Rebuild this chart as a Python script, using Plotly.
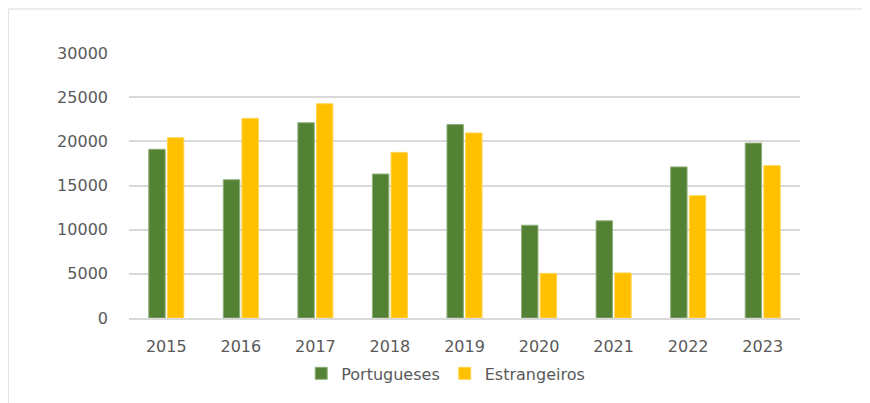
import plotly.graph_objects as go

years = ["2015", "2016", "2017", "2018", "2019", "2020", "2021", "2022", "2023"]
portugueses = [19100, 15650, 22100, 16300, 21900, 10500, 11000, 17100, 19800]
estrangeiros = [20400, 22600, 24250, 18750, 20950, 5050, 5100, 13850, 17250]
y_ticks = [0, 5000, 10000, 15000, 20000, 25000, 30000]
y_ticktext = ["0", "5000", "10000", "15000", "20000", "25000", "30000"]

GREEN = "#548235"
YELLOW = "#FFC000"
TEXT = "#595959"
GRID = "#D9D9D9"

fig = go.Figure()
fig.add_trace(go.Bar(x=years, y=portugueses, name="Portugueses",
                     marker=dict(color=GREEN, line=dict(color="#8FAE7A", width=1))))
fig.add_trace(go.Bar(x=years, y=estrangeiros, name="Estrangeiros",
                     marker=dict(color=YELLOW, line=dict(color="#FFD54F", width=1))))

fig.update_layout(
    width=862, height=395,
    margin=dict(l=121, r=70, t=45, b=85),
    paper_bgcolor="white", plot_bgcolor="white",
    barmode="group", bargap=0.5, bargroupgap=0.12,
    font=dict(family="DejaVu Sans", size=16, color=TEXT),
    showlegend=True,
    legend=dict(orientation="h", x=0.472, xanchor="center", y=-0.145, yanchor="top",
                font=dict(size=16, color=TEXT), itemwidth=30, traceorder="normal"),
    xaxis=dict(showgrid=False, showline=True, linecolor=GRID, linewidth=1.5,
               ticks="", tickfont=dict(size=16, color=TEXT), ticklabelstandoff=13),
    yaxis=dict(range=[0, 30000], tickvals=y_ticks, ticktext=y_ticktext, showgrid=True,
               gridcolor=GRID, gridwidth=1.5, zeroline=False, showline=False, ticks="",
               tickfont=dict(size=16, color=TEXT), ticklabelstandoff=20),
    shapes=[
        dict(type="line", xref="paper", yref="paper", x0=-0.18, x1=1.2, y0=1.166, y1=1.166,
             line=dict(color="#D9D9D9", width=1)),
        dict(type="line", xref="paper", yref="paper", x0=-0.18, x1=-0.18, y0=1.166, y1=-0.4,
             line=dict(color="#D9D9D9", width=1)),
    ],
)

fig.write_html("out.html")
